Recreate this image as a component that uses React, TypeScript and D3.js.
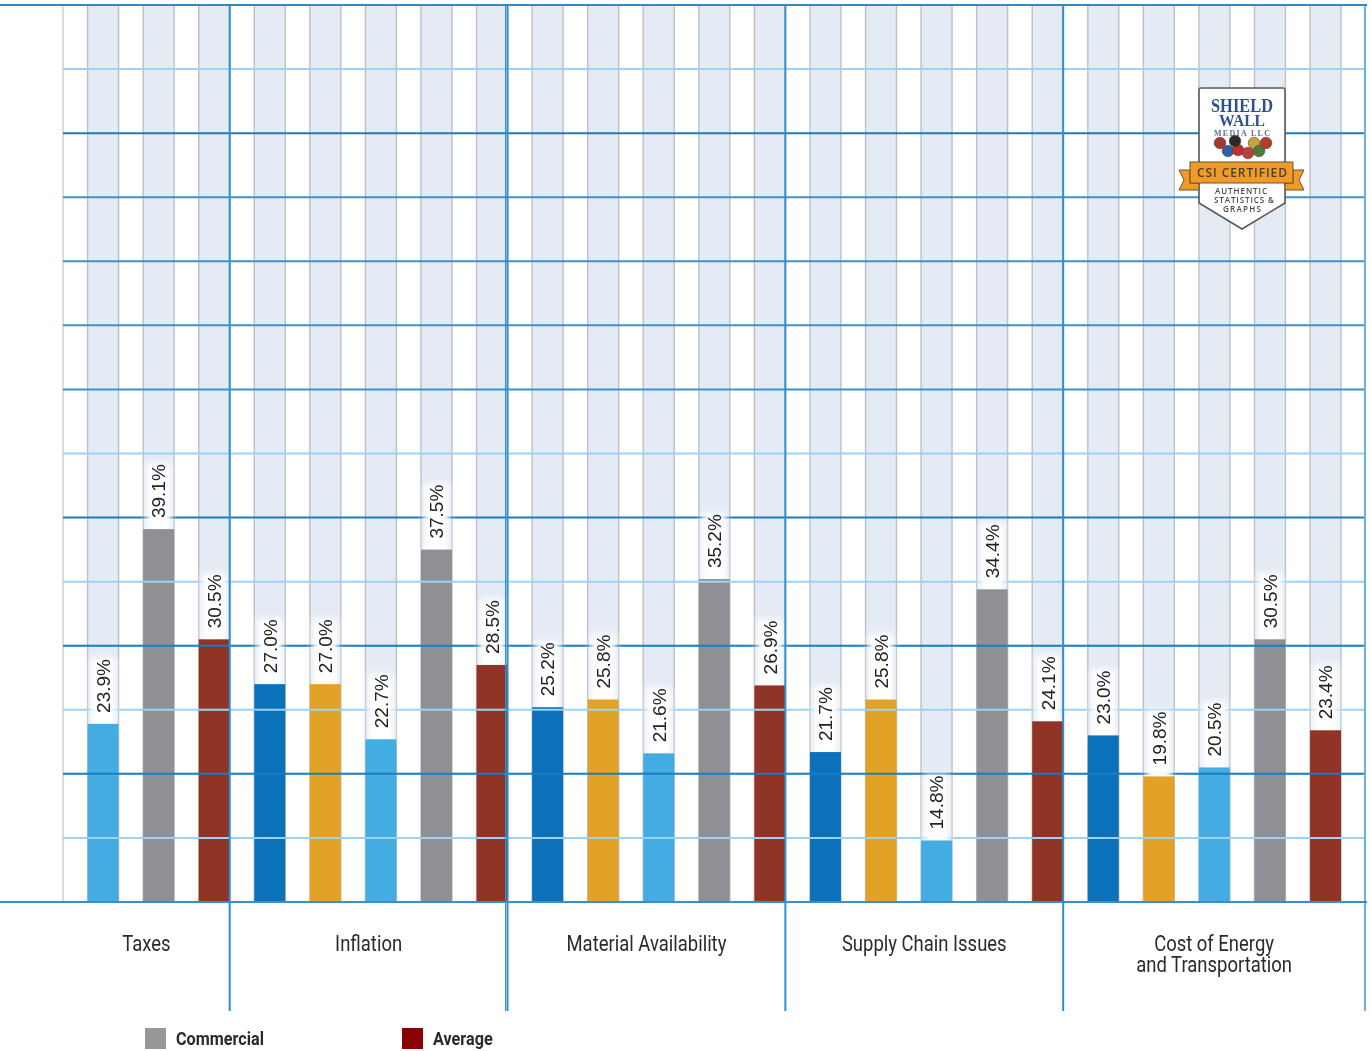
import React from "react";
import * as d3 from "d3";

// Categories and their two-line labels
const categories = ["Taxes", "Inflation", "Material Availability", "Supply Chain Issues", "Cost of Energy"];
const categoryLines = [["Taxes"], ["Inflation"], ["Material Availability"], ["Supply Chain Issues"], ["Cost of Energy", "and Transportation"]];

// Percent values per series; Taxes has no reading for the first two series
const seriesA = [null, 27.0, 25.2, 21.7, 23.0];
const seriesB = [null, 27.0, 25.8, 25.8, 19.8];
const seriesC = [23.9, 22.7, 21.6, 14.8, 20.5];
const commercial = [39.1, 37.5, 35.2, 34.4, 30.5];
const average = [30.5, 28.5, 26.9, 24.1, 23.4];
const seriesValues = [seriesA, seriesB, seriesC, commercial, average];
const seriesColors = ["#0a71ba", "#e2a225", "#43ace2", "#8f9094", "#903425"];

const legendEntries = [
  { name: "Commercial", color: "#989696" },
  { name: "Average", color: "#8b0000" },
];

// Value axis runs from 10% to 80% in steps of 5; every step has its own line weight
const axisTicks = d3.range(10, 81, 5);
const strongTicks = [10, 20, 30, 40, 70, 80];
const mediumTicks = [50, 55, 60, 65];

const logoDiscs = [
  [1220, 143, "#a8352a"], [1228, 151, "#2f5fa0"], [1238, 150, "#c0302a"], [1248, 153, "#b5433a"],
  [1254, 143, "#c2a83a"], [1259, 151, "#4f7a3a"], [1266, 143, "#b83a2a"], [1235, 141, "#2a2a2a"],
] as const;

const WIDTH = 1371;
const HEIGHT = 1051;
const LEFT = 63;
const RIGHT = 1341;
const FRAME_RIGHT = 1365;
const TOP = 5;
const BASE = 902;
const DIVIDER_END = 1011;

const y = d3.scaleLinear().domain([10, 80]).range([BASE, TOP]);

type Bar = { key: string; cat: number; ser: number; value: number };
const bars: Bar[] = categories.flatMap((_, cat) =>
  seriesValues.flatMap((vals, ser) => {
    const value = vals[cat];
    return value == null ? [] : [{ key: `${cat}-${ser}`, cat, ser, value }];
  })
);

// All bars sit at the right end of their slot, so the outer gap falls on the left only
const x = d3
  .scaleBand<string>()
  .domain(bars.map((b) => b.key))
  .range([LEFT, RIGHT])
  .paddingInner(0.443)
  .paddingOuter(0.2215)
  .align(1);

const groupEnds = categories.map((_, cat) => {
  const last = bars.filter((b) => b.cat === cat).at(-1)!;
  return x(last.key)! + x.bandwidth();
});
const groupBounds = [LEFT, ...groupEnds.slice(0, -1), FRAME_RIGHT];

const gridColor = (t: number) =>
  strongTicks.includes(t) ? "#1a7cc0" : mediumTicks.includes(t) ? "#3a93cd" : "#9dd2f3";

function Grid({ blend }: { blend?: boolean }) {
  return (
    <g style={blend ? { mixBlendMode: "multiply" } : undefined}>
      {axisTicks.map((t) => (
        <line key={t} x1={LEFT} x2={FRAME_RIGHT} y1={y(t)} y2={y(t)} stroke={gridColor(t)} strokeWidth={2} />
      ))}
    </g>
  );
}

function Logo() {
  const shield = "M1201 88 H1283 Q1285 88 1285 90 V203 L1242 229 L1199 203 V90 Q1199 88 1201 88 Z";
  const ribbonLeft = "M1190 170 H1179 L1184 180 L1179 190 H1199 V183 H1190 Z";
  const ribbonRight = "M1293 170 H1304 L1299 180 L1304 190 H1285 V183 H1293 Z";
  return (
    <g>
      <path d={shield} fill="#fff" stroke="#5a5a5a" strokeWidth={1.6} />
      <text x={1242} y={112} textAnchor="middle" fontFamily="'Liberation Serif'" fontWeight={700} fontSize={18} fill="#2f4f92" textLength={62} lengthAdjust="spacingAndGlyphs">SHIELD</text>
      <text x={1242} y={126} textAnchor="middle" fontFamily="'Liberation Serif'" fontWeight={700} fontSize={17} fill="#2f4f92" textLength={46} lengthAdjust="spacingAndGlyphs">WALL</text>
      <text x={1242} y={136} textAnchor="middle" fontFamily="'Liberation Serif'" fontWeight={700} fontSize={8} fill="#5d6f9c" textLength={56}>MEDIA LLC</text>
      {logoDiscs.map(([cx, cy, fill], i) => (
        <circle key={i} cx={cx} cy={cy} r={5.8} fill={fill} stroke="#5a3a30" strokeWidth={0.6} />
      ))}
      <path d={ribbonLeft} fill="#f09a2a" stroke="#6a5330" strokeWidth={1} />
      <path d={ribbonRight} fill="#f09a2a" stroke="#6a5330" strokeWidth={1} />
      <rect x={1190} y={162} width={103} height={21} fill="#f09a2a" stroke="#6a5330" strokeWidth={1} />
      <text x={1242} y={177} textAnchor="middle" fontFamily="'Open Sans'" fontWeight={600} fontSize={12} fill="#4a4030" textLength={90}>CSI CERTIFIED</text>
      <g fontFamily="'Open Sans'" fontWeight={600} fontSize={8} fill="#4a4a4a" textAnchor="middle">
        <text x={1241} y={194} textLength={52}>AUTHENTIC</text>
        <text x={1244} y={203} textLength={60}>STATISTICS &amp;</text>
        <text x={1242} y={212} textLength={38}>GRAPHS</text>
      </g>
    </g>
  );
}

export default function App() {
  const bw = x.bandwidth();
  return (
    <svg
      width={WIDTH}
      height={HEIGHT}
      viewBox={`0 0 ${WIDTH} ${HEIGHT}`}
      style={{ position: "absolute", left: 0, top: 0, display: "block", background: "#fff" }}
    >
      <defs>
        <filter id="halo" x="-40%" y="-40%" width="180%" height="180%">
          <feGaussianBlur stdDeviation={3} />
        </filter>
        <clipPath id="barClip">
          {bars.map((b) => (
            <rect key={b.key} x={x(b.key)!} y={y(b.value)} width={bw} height={BASE - y(b.value)} />
          ))}
        </clipPath>
      </defs>

      {/* column backgrounds */}
      {bars.map((b) => (
        <rect key={b.key} x={x(b.key)!} y={TOP} width={bw} height={BASE - TOP} fill="#e4ebf5" />
      ))}
      <line x1={LEFT} x2={LEFT} y1={TOP} y2={BASE} stroke="#dcdcdc" strokeWidth={2} />
      {bars.map((b) => (
        <g key={b.key} stroke="#bcbfc6" strokeWidth={1.4}>
          <line x1={x(b.key)!} x2={x(b.key)!} y1={TOP} y2={BASE} />
          <line x1={x(b.key)! + bw} x2={x(b.key)! + bw} y1={TOP} y2={BASE} />
        </g>
      ))}

      <Grid />

      {/* white glow behind each value label */}
      {bars.map((b) => (
        <rect
          key={b.key}
          x={x(b.key)! + 3}
          y={y(b.value) - 66}
          width={bw - 6}
          height={70}
          fill="#fff"
          filter="url(#halo)"
        />
      ))}

      {bars.map((b) => (
        <rect key={b.key} x={x(b.key)!} y={y(b.value)} width={bw} height={BASE - y(b.value)} fill={seriesColors[b.ser]} />
      ))}
      <g clipPath="url(#barClip)">
        <Grid blend />
      </g>

      {/* group dividers, frame and baseline */}
      {groupEnds.slice(0, -1).map((ge, i) => (
        <line key={i} x1={ge} x2={ge} y1={TOP} y2={DIVIDER_END} stroke="#2f8fce" strokeWidth={2} />
      ))}
      <line x1={groupEnds[1] - 2} x2={groupEnds[1] - 2} y1={TOP} y2={DIVIDER_END} stroke="#2f8fce" strokeWidth={1} />
      <line x1={FRAME_RIGHT} x2={FRAME_RIGHT} y1={TOP} y2={DIVIDER_END} stroke="#6fb0dc" strokeWidth={2} />
      <line x1={0} x2={WIDTH - 4} y1={BASE} y2={BASE} stroke="#3a8fcb" strokeWidth={2} />
      <line x1={0} x2={WIDTH - 4} y1={TOP} y2={TOP} stroke="#2f8ac8" strokeWidth={2} />

      {bars.map((b) => {
        const cx = x(b.key)! + bw / 2;
        const by = y(b.value) - 11;
        return (
          <text
            key={b.key}
            transform={`translate(${cx},${by}) rotate(-90)`}
            dy="0.36em"
            fontFamily="'Liberation Sans'"
            fontSize={19}
            fill="#222"
          >
            {b.value.toFixed(1)}%
          </text>
        );
      })}

      {categoryLines.map((lines, i) => {
        const cx = (groupBounds[i] + groupBounds[i + 1]) / 2;
        return lines.map((line, j) => (
          <text
            key={line}
            transform={`translate(${cx},${951 + j * 21}) scale(0.84,1)`}
            textAnchor="middle"
            fontFamily="Roboto"
            fontSize={22}
            fill="#2a2a2e"
          >
            {line}
          </text>
        ));
      })}

      {legendEntries.map((e, i) => {
        const lx = 145 + i * 257;
        return (
          <g key={e.name}>
            <rect x={lx} y={1028} width={21} height={21} fill={e.color} />
            <text
              transform={`translate(${lx + 31},1045) scale(0.9,1)`}
              fontFamily="Roboto"
              fontWeight={700}
              fontSize={18}
              fill="#2a2a2e"
            >
              {e.name}
            </text>
          </g>
        );
      })}

      <Logo />
    </svg>
  );
}
